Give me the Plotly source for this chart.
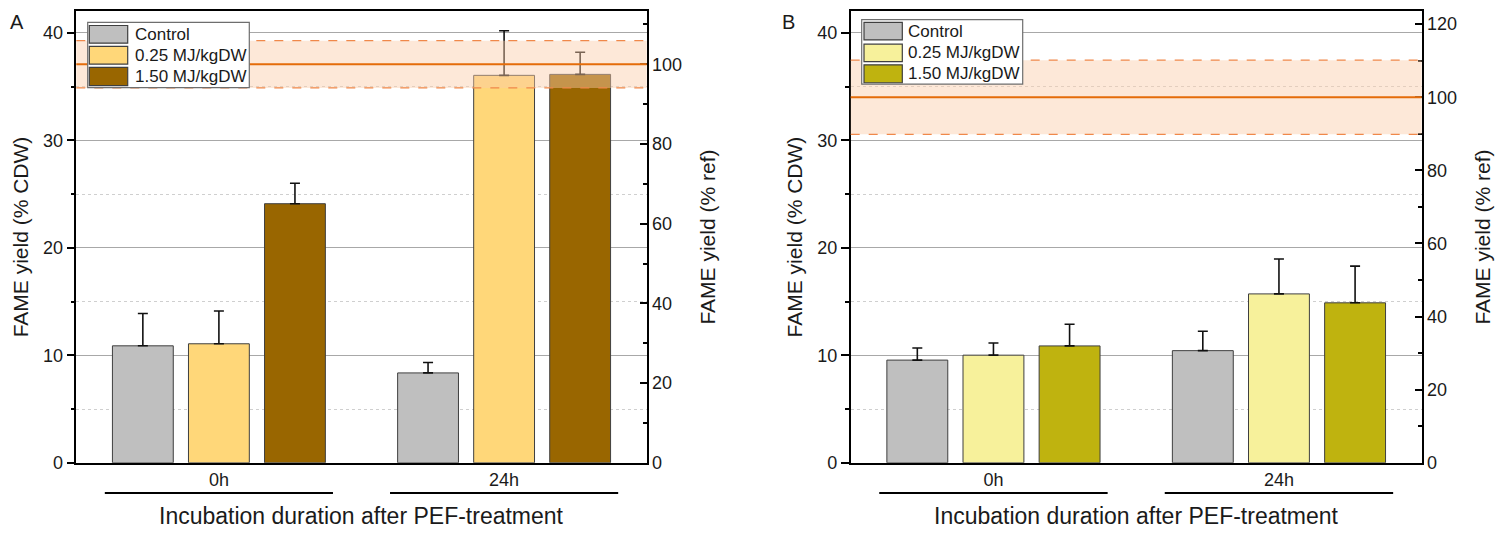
import plotly.graph_objects as go

W, H = 1509, 540

# ---------------- data ----------------
categories = ["0h", "24h"]
series_names = ["Control", "0.25 MJ/kgDW", "1.50 MJ/kgDW"]

a_control = [10.88, 8.36]
a_control_err = [3.0, 0.97]
a_low = [11.07, 36.04]
a_low_err = [3.05, 4.15]
a_high = [24.1, 36.13]
a_high_err = [1.9, 2.06]
a_ref = 37.07
a_ref_sd = 2.2

b_control = [9.55, 10.43]
b_control_err = [1.13, 1.8]
b_low = [10.01, 15.71]
b_low_err = [1.13, 3.25]
b_high = [10.87, 14.88]
b_high_err = [2.01, 3.41]
b_ref = 34.0
b_ref_sd = 3.45

left_max = 42

# ---------------- style ----------------
FONT = "Liberation Sans, Arial, sans-serif"
a_colors = ["#BFBFBF", "#FFD779", "#996600"]
b_colors = ["#BFBFBF", "#F7F19B", "#BFB30F"]
BAR_LINE = "#3F3F3F"
REF_COLOR = "#E46C0A"
REF_DASH = "#F0884A"
BAND_FILL = "rgba(251,204,168,0.45)"

fig = go.Figure()

def add_bars(values, errs, colors, xa, ya):
    for name, v, e, c in zip(series_names, values, errs, colors):
        fig.add_trace(go.Bar(
            x=categories, y=v, name=name, xaxis=xa, yaxis=ya,
            marker=dict(color=c, line=dict(color=BAR_LINE, width=1)),
            error_y=dict(type="data", symmetric=False, array=e,
                         arrayminus=[0] * len(e), color="#111111",
                         thickness=1.6, width=5),
            showlegend=False, hoverinfo="y"))

add_bars([a_control, a_low, a_high], [a_control_err, a_low_err, a_high_err],
         a_colors, "x", "y")
add_bars([b_control, b_low, b_high], [b_control_err, b_low_err, b_high_err],
         b_colors, "x2", "y3")
# carriers so the right-hand (% ref) axes are drawn
fig.add_trace(go.Scatter(x=categories, y=[None, None], xaxis="x", yaxis="y2",
                         showlegend=False, hoverinfo="skip"))
fig.add_trace(go.Scatter(x=categories, y=[None, None], xaxis="x2", yaxis="y4",
                         showlegend=False, hoverinfo="skip"))

def px2x(p):
    return p / W

def px2y(p):
    return 1 - p / H

domA = [px2x(76.3), px2x(646.7)]
domB = [px2x(850.7), px2x(1421.7)]
domY = [px2y(471.5), px2y(11.5)]

tickfont = dict(family=FONT, size=18, color="#1a1a1a")
titlefont = dict(family=FONT, size=21, color="#1a1a1a")

def xaxis(dom, anchor):
    return dict(domain=dom, anchor=anchor, type="category",
                range=[-0.5, len(categories) - 0.5],
                showline=True, linecolor="black", linewidth=1.5, mirror=True,
                ticks="", showgrid=False, tickfont=tickfont, zeroline=False)

def yleft(anchor):
    return dict(domain=domY, anchor=anchor, range=[0, left_max],
                tick0=0, dtick=10, ticks="outside", ticklen=8, tickwidth=1.5,
                tickcolor="black", showline=True, linecolor="black",
                linewidth=1.5, showgrid=True, gridcolor="#A8A8A8", gridwidth=1,
                zeroline=False, tickfont=tickfont,
                minor=dict(dtick=5, ticks="outside", ticklen=4, tickwidth=1.5,
                           tickcolor="black", showgrid=True,
                           gridcolor="#CFCFCF", griddash="dot", gridwidth=1),
                title=dict(text="FAME yield (% CDW)", font=titlefont, standoff=9))

def yright(anchor, overlay, ref):
    return dict(domain=domY, anchor=anchor, overlaying=overlay, side="right",
                range=[0, left_max / ref * 100], tick0=0, dtick=20,
                ticks="inside", ticklen=7, tickwidth=1.5, tickcolor="black",
                showline=True, linecolor="black", linewidth=1.5,
                showgrid=False, zeroline=False, tickfont=tickfont,
                minor=dict(dtick=10, ticks="inside", ticklen=4, tickwidth=1.5,
                           tickcolor="black", showgrid=False),
                title=dict(text="FAME yield (% ref)", font=titlefont, standoff=19))

fig.update_layout(
    width=W, height=H, margin=dict(l=0, r=0, t=0, b=0),
    paper_bgcolor="white", plot_bgcolor="white",
    barmode="group", bargap=0.2, bargroupgap=0.2,
    font=dict(family=FONT, color="#1a1a1a"),
    xaxis=xaxis(domA, "y"), yaxis=yleft("x"),
    yaxis2=yright("x", "y", a_ref),
    xaxis2=xaxis(domB, "y3"), yaxis3=yleft("x2"),
    yaxis4=yright("x2", "y3", b_ref),
)

shapes = []
annotations = []

# reference bands (mean +/- sd of the reference yield)
for xr, yr, ref, sd in [("x domain", "y", a_ref, a_ref_sd),
                        ("x2 domain", "y3", b_ref, b_ref_sd)]:
    shapes.append(dict(type="rect", xref=xr, yref=yr, x0=0, x1=1,
                       y0=ref - sd, y1=ref + sd, fillcolor=BAND_FILL,
                       line=dict(width=0), layer="above"))
    for yv in (ref - sd, ref + sd):
        shapes.append(dict(type="line", xref=xr, yref=yr, x0=0, x1=1,
                           y0=yv, y1=yv, layer="above",
                           line=dict(color=REF_DASH, width=1.3, dash="dash")))
    shapes.append(dict(type="line", xref=xr, yref=yr, x0=0, x1=1,
                       y0=ref, y1=ref, layer="above",
                       line=dict(color=REF_COLOR, width=2)))

# group underlines + x titles
for xr, dom in [("x", domA), ("x2", domB)]:
    for i in range(len(categories)):
        shapes.append(dict(type="line", xref=xr, yref="paper",
                           x0=i - 0.4, x1=i + 0.4, y0=px2y(502.3), y1=px2y(502.3),
                           line=dict(color="black", width=2)))
    annotations.append(dict(text="Incubation duration after PEF-treatment",
                            xref="paper", yref="paper",
                            x=(dom[0] + dom[1]) / 2, y=px2y(526),
                            xanchor="center", yanchor="middle", showarrow=False,
                            font=dict(family=FONT, size=23, color="#1a1a1a")))

# panel letters
for letter, xp in [("A", 16.5), ("B", 788)]:
    annotations.append(dict(text=letter, xref="paper", yref="paper",
                            x=px2x(xp), y=px2y(22.5), xanchor="center",
                            yanchor="middle", showarrow=False,
                            font=dict(family=FONT, size=20, color="#1a1a1a")))

# legends (drawn boxes)
def legend(box, sw_x, rows, text_x, colors):
    bx0, by0, bx1, by1 = box
    shapes.append(dict(type="rect", xref="paper", yref="paper",
                       x0=px2x(bx0), x1=px2x(bx1), y0=px2y(by1), y1=px2y(by0),
                       fillcolor="white", line=dict(color="#6E6E6E", width=1.2),
                       layer="above"))
    for (r0, r1), c, name in zip(rows, colors, series_names):
        shapes.append(dict(type="rect", xref="paper", yref="paper",
                           x0=px2x(sw_x[0]), x1=px2x(sw_x[1]),
                           y0=px2y(r1), y1=px2y(r0), fillcolor=c,
                           line=dict(color=BAR_LINE, width=1.2), layer="above"))
        annotations.append(dict(text=name, xref="paper", yref="paper",
                                x=px2x(text_x), y=px2y((r0 + r1) / 2),
                                xanchor="left", yanchor="middle", showarrow=False,
                                font=dict(family=FONT, size=17, color="#1a1a1a")))

legend((87.7, 22.7, 249.3, 89.3), (89.3, 127.7),
       [(26, 44), (47.3, 65.3), (68.7, 87.3)], 133, a_colors)
legend((861.7, 20, 1022.7, 85.7), (864, 902.3),
       [(22.7, 40.7), (45, 62.7), (66, 84.3)], 906, b_colors)

fig.update_layout(shapes=shapes, annotations=annotations)
fig.write_html(
    "out.html",
    config={"displayModeBar": False},
    post_script=("document.documentElement.style.margin='0';"
                 "document.documentElement.style.overflow='hidden';"
                 "document.body.style.margin='0';"
                 "document.body.style.padding='0';"
                 "document.body.style.overflow='hidden';"))
